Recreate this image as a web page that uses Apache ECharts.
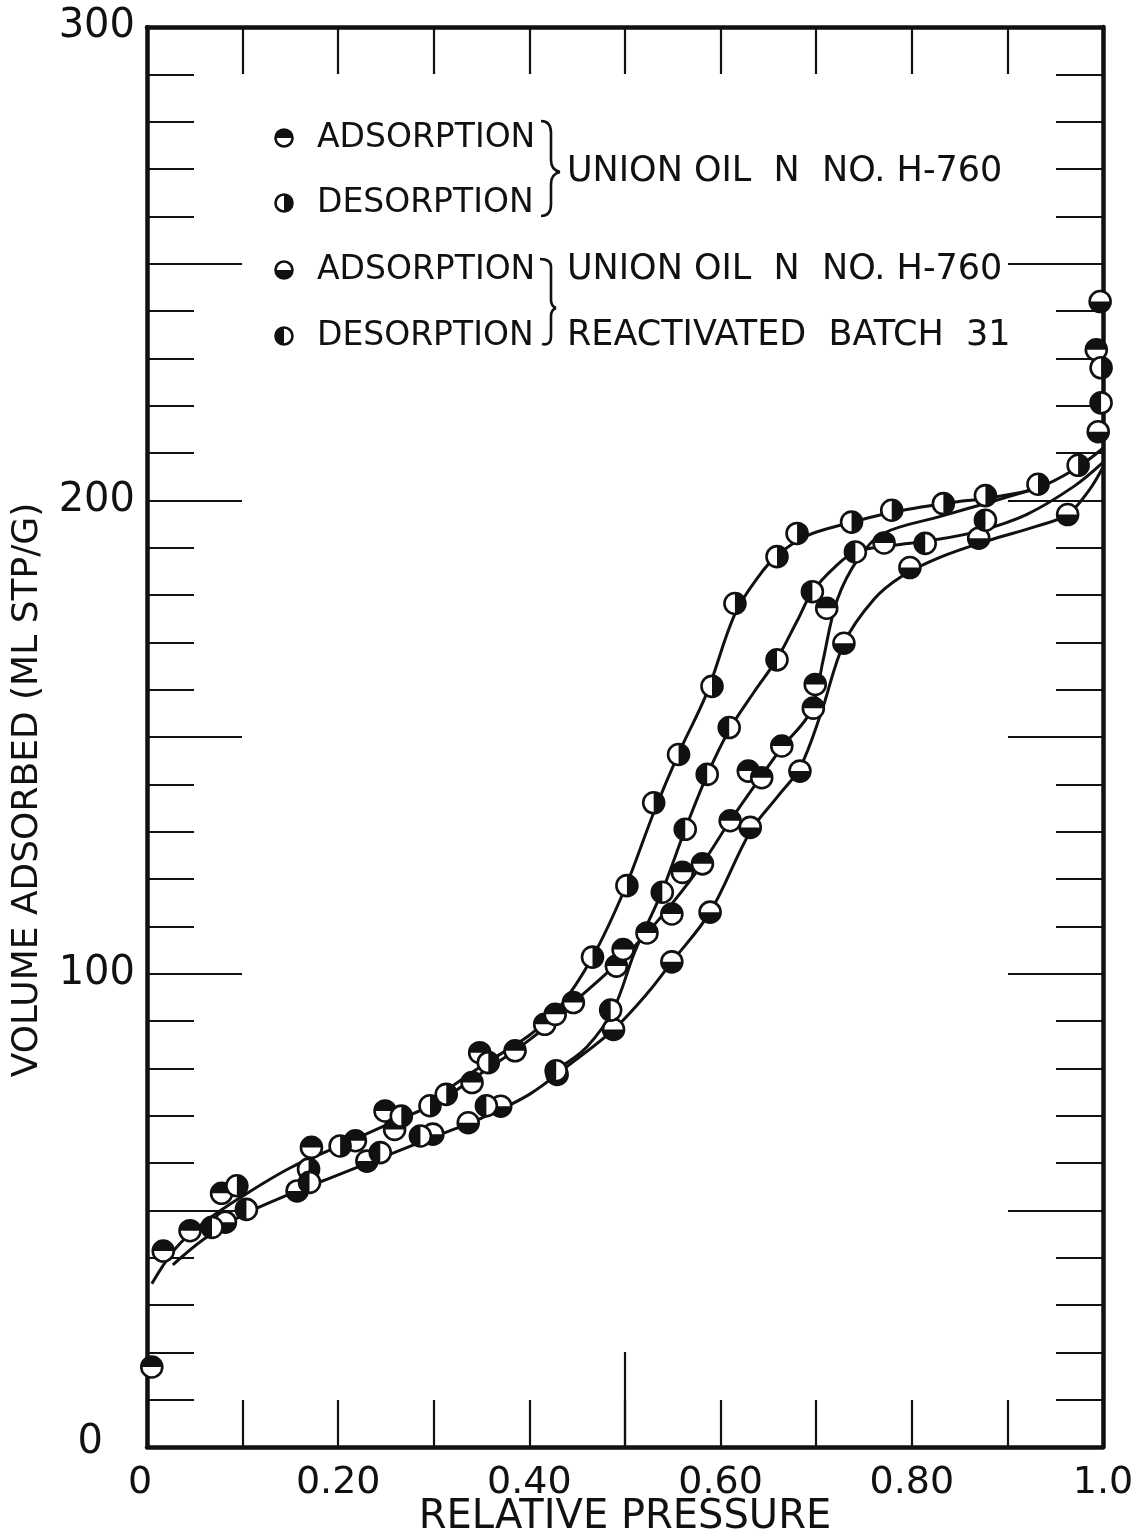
<!DOCTYPE html>
<html>
<head>
<meta charset="utf-8">
<script src="https://cdn.jsdelivr.net/npm/echarts@6/dist/echarts.min.js"></script>
<style>
  html, body { margin: 0; padding: 0; background: #ffffff; }
  #chart { width: 1132px; height: 1538px; }
</style>
</head>
<body>
<div id="chart"></div>
<script>
// Nitrogen isotherms, relative pressure vs. volume adsorbed (ml STP/g)

// Axis tick labels
const xLabelValues = [0, 0.2, 0.4, 0.6, 0.8, 1.0];
const xLabelTexts = ['0', '0.20', '0.40', '0.60', '0.80', '1.0'];
const yLabelValues = [0, 100, 200, 300];
const yLabelTexts = ['0', '100', '200', '300'];

// Measured points: [relative pressure, volume adsorbed]
const unionAdsorption = [
  [0.005, 16.9], [0.017, 41.4], [0.045, 45.7], [0.078, 53.6], [0.172, 63.3], [0.218, 64.7],
  [0.249, 71.0], [0.259, 67.1], [0.340, 77.0], [0.348, 83.3], [0.385, 83.7], [0.416, 89.3],
  [0.427, 91.4], [0.446, 93.9], [0.491, 101.6], [0.498, 105.1], [0.523, 108.6], [0.549, 112.6],
  [0.560, 121.4], [0.581, 123.2], [0.610, 132.3], [0.629, 142.8], [0.643, 141.4], [0.664, 148.1],
  [0.697, 156.1], [0.699, 161.1], [0.711, 177.2], [0.771, 191.0], [0.993, 231.8]
];
const unionDesorption = [
  [0.094, 55.2], [0.169, 58.7], [0.202, 63.6], [0.266, 69.9], [0.296, 72.1], [0.313, 74.5],
  [0.357, 81.2], [0.466, 103.5], [0.502, 118.6], [0.530, 136.1], [0.556, 146.3], [0.591, 160.7],
  [0.615, 178.2], [0.659, 188.1], [0.680, 193.0], [0.737, 195.4], [0.779, 197.9], [0.833, 199.3],
  [0.877, 201.0], [0.932, 203.4], [0.974, 207.4], [0.998, 228.0]
];
const reactAdsorption = [
  [0.082, 47.5], [0.157, 54.1], [0.230, 60.4], [0.299, 66.1], [0.336, 68.5], [0.370, 72.0],
  [0.429, 78.7], [0.488, 88.2], [0.549, 102.5], [0.589, 113.0], [0.631, 130.9], [0.683, 142.8],
  [0.729, 169.8], [0.798, 185.8], [0.870, 192.0], [0.963, 197.0], [0.995, 214.5], [0.997, 242.0]
];
const reactDesorption = [
  [0.068, 46.4], [0.104, 50.2], [0.170, 55.9], [0.244, 62.2], [0.286, 65.7], [0.355, 72.1],
  [0.428, 79.5], [0.485, 92.3], [0.539, 117.2], [0.563, 130.5], [0.586, 142.1], [0.609, 152.0],
  [0.659, 166.3], [0.696, 180.7], [0.741, 189.1], [0.814, 190.9], [0.877, 195.8], [0.998, 220.6]
];

// Hand-faired curves through the points
const unionAdsorptionCurve = [
  [0.005, 34.5], [0.03, 42], [0.06, 47.5], [0.1, 53], [0.15, 59], [0.2, 63.5], [0.25, 68],
  [0.3, 72.5], [0.35, 79], [0.4, 86], [0.446, 93.9], [0.49, 101.8], [0.523, 108.6], [0.55, 115],
  [0.58, 123], [0.61, 132.3], [0.64, 141], [0.665, 148], [0.69, 154], [0.70, 159], [0.707, 166],
  [0.722, 179], [0.745, 188], [0.77, 193], [0.83, 196.6], [0.88, 199.5], [0.93, 202.5]
];
const unionDesorptionCurve = [
  [0.30, 73.5], [0.35, 80.5], [0.40, 87], [0.43, 92.5], [0.466, 103.5], [0.50, 118], [0.53, 134],
  [0.556, 146.5], [0.585, 159], [0.615, 176], [0.64, 184], [0.66, 188.5], [0.69, 192.5], [0.73, 195],
  [0.78, 197.5], [0.84, 199.5], [0.88, 200.5], [0.93, 202.5], [0.97, 206.5], [1.0, 211]
];
const reactAdsorptionCurve = [
  [0.027, 38.5], [0.06, 44], [0.1, 49], [0.15, 53.5], [0.2, 57.5], [0.25, 61.5], [0.3, 65.5],
  [0.35, 69.5], [0.4, 74.5], [0.44, 80.5], [0.488, 88.2], [0.524, 96], [0.549, 102.5], [0.589, 113],
  [0.631, 130], [0.66, 137.5], [0.683, 143.5], [0.705, 155], [0.729, 169.8], [0.76, 179], [0.79, 184],
  [0.83, 188], [0.88, 191.5], [0.93, 194.5], [0.963, 197], [0.985, 202], [1.0, 207]
];
const reactDesorptionCurve = [
  [0.43, 80], [0.46, 84.5], [0.488, 92.5], [0.51, 104.5], [0.539, 117.5], [0.563, 130.5],
  [0.586, 142], [0.609, 151.5], [0.635, 159.5], [0.659, 166.5], [0.68, 174.5], [0.696, 180.7],
  [0.72, 186], [0.741, 189.1], [0.78, 190.5], [0.82, 191.5], [0.87, 193.5], [0.92, 197],
  [0.97, 203], [1.0, 208]
];

const INK = '#111111';
const FONT = '"DejaVu Sans", sans-serif';
const MARK_R = 10.5;

// filled half of each symbol (sector angles, clockwise from +x)
const HALF_TOP = [Math.PI, 2 * Math.PI];
const HALF_BOTTOM = [0, Math.PI];
const HALF_LEFT = [Math.PI / 2, 3 * Math.PI / 2];
const HALF_RIGHT = [-Math.PI / 2, Math.PI / 2];

function halfCircleShapes(cx, cy, r, half) {
  return [
    { type: 'circle', shape: { cx: cx, cy: cy, r: r },
      style: { fill: '#ffffff', stroke: INK, lineWidth: 2.6 } },
    { type: 'sector', shape: { cx: cx, cy: cy, r0: 0, r: r, startAngle: half[0], endAngle: half[1], clockwise: true },
      style: { fill: INK } }
  ];
}

function markerSeries(name, data, half) {
  return {
    name: name,
    type: 'custom',
    coordinateSystem: 'cartesian2d',
    xAxisIndex: 0, yAxisIndex: 0,
    z: 10,
    data: data,
    renderItem: function (params, api) {
      const p = api.coord([api.value(0), api.value(1)]);
      return { type: 'group', children: halfCircleShapes(p[0], p[1], MARK_R, half) };
    }
  };
}

function curveSeries(name, data) {
  return {
    name: name,
    type: 'line',
    xAxisIndex: 0, yAxisIndex: 0,
    data: data,
    smooth: 0.35,
    showSymbol: false,
    symbol: 'none',
    silent: true,
    z: 5,
    lineStyle: { color: INK, width: 3 }
  };
}

function findLabel(values, texts, v) {
  for (let i = 0; i < values.length; i++) {
    if (Math.abs(values[i] - v) < 1e-6) return texts[i];
  }
  return '';
}

const frameLine = { show: true, onZero: false, lineStyle: { color: INK, width: 4.5 } };
const shortTick = { show: true, inside: true, length: 47, lineStyle: { color: INK, width: 2.2 } };
const longTick = { show: true, inside: true, length: 95, lineStyle: { color: INK, width: 2.2 } };
const tenthTick = { show: true, splitNumber: 5, length: 47, lineStyle: { color: INK, width: 2.2 } };

// legend block: symbols, captions, braces
const legendRows = [
  { y: 138, half: HALF_TOP, text: 'ADSORPTION' },
  { y: 203, half: HALF_RIGHT, text: 'DESORPTION' },
  { y: 270, half: HALF_BOTTOM, text: 'ADSORPTION' },
  { y: 336, half: HALF_LEFT, text: 'DESORPTION' }
];
const legendGraphics = [];
legendRows.forEach(function (row) {
  halfCircleShapes(284, row.y, 8.5, row.half).forEach(function (s) { legendGraphics.push(s); });
  legendGraphics.push({
    type: 'text', x: 317, y: row.y,
    style: { text: row.text, font: '33px ' + FONT, fill: INK, textVerticalAlign: 'middle', textBaseline: 'middle' }
  });
});
const groupTexts = [
  { y: 172, text: 'UNION OIL  N  NO. H-760' },
  { y: 270, text: 'UNION OIL  N  NO. H-760' },
  { y: 336, text: 'REACTIVATED  BATCH  31' }
];
groupTexts.forEach(function (g) {
  legendGraphics.push({
    type: 'text', x: 567, y: g.y,
    style: { text: g.text, font: '35px ' + FONT, fill: INK, textVerticalAlign: 'middle', textBaseline: 'middle' }
  });
});

// curly braces built from straight and quadratic pieces
function braceCurve(x1, y1, cx, cy, x2, y2) {
  return { type: 'bezierCurve', shape: { x1: x1, y1: y1, cpx1: cx, cpy1: cy, x2: x2, y2: y2 },
           style: { fill: null, stroke: INK, lineWidth: 2.6 } };
}
function braceLine(x1, y1, x2, y2) {
  return { type: 'line', shape: { x1: x1, y1: y1, x2: x2, y2: y2 },
           style: { stroke: INK, lineWidth: 2.6 } };
}
[
  braceCurve(541, 121, 551, 121, 551, 133), braceLine(551, 133, 551, 160),
  braceCurve(551, 160, 551, 170, 560, 172), braceCurve(560, 172, 551, 174, 551, 184),
  braceLine(551, 184, 551, 204), braceCurve(551, 204, 551, 216, 541, 216),
  braceCurve(540, 259, 551, 259, 551, 267), braceLine(551, 267, 551, 300),
  braceCurve(551, 300, 551, 306, 556, 308), braceCurve(556, 308, 551, 310, 551, 316),
  braceLine(551, 316, 551, 336), braceCurve(551, 336, 551, 346, 542, 344)
].forEach(function (s) { legendGraphics.push(s); });

legendGraphics.push({
  type: 'text', x: 28, y: 790, rotation: Math.PI / 2,
  style: { text: 'VOLUME ADSORBED (ML STP/G)', font: '36px ' + FONT, fill: INK,
           textAlign: 'center', textVerticalAlign: 'middle', textBaseline: 'middle' }
});

const chart = echarts.init(document.getElementById('chart'), null, { renderer: 'canvas' });

chart.setOption({
  backgroundColor: '#ffffff',
  animation: false,
  grid: { left: 147, right: 29, top: 27, bottom: 91, containLabel: false, outerBoundsMode: 'none' },
  xAxis: [
    {
      type: 'value', position: 'bottom', min: 0, max: 1, interval: 0.1,
      axisLine: frameLine, axisTick: shortTick, splitLine: { show: false },
      axisLabel: {
        show: true, margin: 17, color: INK, fontFamily: FONT, fontSize: 38,
        formatter: function (v) {
          const t = findLabel(xLabelValues, xLabelTexts, v);
          return v === 0 ? '{origin|' + t + '}' : t;
        },
        rich: { origin: { fontFamily: FONT, fontSize: 38, color: INK, padding: [0, 14, 0, 0] } }
      },
      name: 'RELATIVE PRESSURE', nameLocation: 'middle', nameGap: 51, nameMoveOverlap: false,
      nameTextStyle: { color: INK, fontFamily: FONT, fontSize: 40 }
    },
    {
      type: 'value', position: 'bottom', min: 0, max: 1, interval: 0.5,
      axisLine: { show: false }, axisTick: longTick, axisLabel: { show: false }, splitLine: { show: false }
    },
    {
      type: 'value', position: 'top', min: 0, max: 1, interval: 0.1,
      axisLine: frameLine, axisTick: shortTick, axisLabel: { show: false }, splitLine: { show: false }
    }
  ],
  yAxis: [
    {
      type: 'value', position: 'left', min: 0, max: 300, interval: 50,
      axisLine: frameLine, axisTick: longTick, minorTick: tenthTick, splitLine: { show: false },
      minorSplitLine: { show: false },
      axisLabel: {
        show: true, margin: 12, color: INK, fontFamily: FONT, fontSize: 40,
        formatter: function (v) {
          const t = findLabel(yLabelValues, yLabelTexts, v);
          return v === 0 ? '{origin|' + t + '}' : t;
        },
        rich: { origin: { fontFamily: FONT, fontSize: 40, color: INK, padding: [0, 32, 8, 0] } }
      }
    },
    {
      type: 'value', position: 'right', min: 0, max: 300, interval: 50,
      axisLine: frameLine, axisTick: longTick, minorTick: tenthTick, splitLine: { show: false },
      minorSplitLine: { show: false },
      axisLabel: { show: false }
    }
  ],
  graphic: { elements: legendGraphics },
  series: [
    curveSeries('Union Oil adsorption curve', unionAdsorptionCurve),
    curveSeries('Union Oil desorption curve', unionDesorptionCurve),
    curveSeries('Reactivated adsorption curve', reactAdsorptionCurve),
    curveSeries('Reactivated desorption curve', reactDesorptionCurve),
    markerSeries('Union Oil adsorption', unionAdsorption, HALF_TOP),
    markerSeries('Union Oil desorption', unionDesorption, HALF_RIGHT),
    markerSeries('Reactivated adsorption', reactAdsorption, HALF_BOTTOM),
    markerSeries('Reactivated desorption', reactDesorption, HALF_LEFT)
  ]
});
</script>
</body>
</html>
